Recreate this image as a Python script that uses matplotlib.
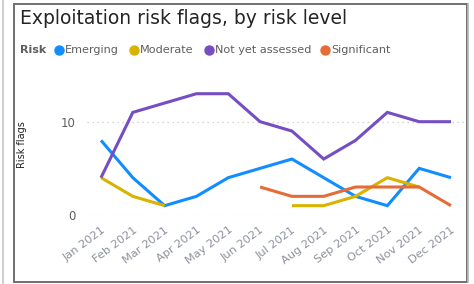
import numpy as np
import matplotlib.pyplot as plt
from matplotlib.patches import Rectangle
from matplotlib.lines import Line2D

# Data
months = ['Jan 2021', 'Feb 2021', 'Mar 2021', 'Apr 2021', 'May 2021', 'Jun 2021',
          'Jul 2021', 'Aug 2021', 'Sep 2021', 'Oct 2021', 'Nov 2021', 'Dec 2021']
series_names = ['Emerging', 'Moderate', 'Not yet assessed', 'Significant']
emerging = [8, 4, 1, 2, 4, 5, 6, 4, 2, 1, 5, 4]
moderate = [4, 2, 1, None, None, None, 1, 1, 2, 4, 3, None]
not_yet_assessed = [4, 11, 12, 13, 13, 10, 9, 6, 8, 11, 10, 10]
significant = [None, None, None, None, None, 3, 2, 2, 3, 3, 3, 1]
y_ticks = [0, 10]

colors = ['#118DFF', '#D9B300', '#744EC2', '#E66C37']
W, H = 474, 284

fig = plt.figure(figsize=(W / 100, H / 100), dpi=100)
fig.patch.set_facecolor('white')

# frame of the visual
fig.add_artist(Line2D([2.5 / W, 2.5 / W], [0, 1], color='#c6c6c6', lw=1.2))
fig.add_artist(Rectangle((14 / W, (H - 282) / H), 453 / W, 278 / H,
                         fill=False, edgecolor='#707070', lw=1.4))
fig.add_artist(Line2D([468 / W, 468 / W], [(H - 282) / H, (H - 4) / H],
                      color='#b8b8b8', lw=1.2))

ax = fig.add_axes([87 / W, (H - 215) / H, 378 / W, (14 * 9.33) / H])
x = np.arange(len(months))
data = [emerging, moderate, not_yet_assessed, significant]
for vals, c in zip(data, colors):
    y = np.array([np.nan if v is None else v for v in vals], dtype=float)
    ax.plot(x, y, color=c, lw=2.2, solid_capstyle='butt', solid_joinstyle='miter')

ax.set_xlim(-0.44, 11.44)
ax.set_ylim(0, 14)
ax.set_yticks(y_ticks)
ax.set_yticklabels([str(t) for t in y_ticks], fontsize=8.5, color='#605E5C')
for t in y_ticks:
    ax.axhline(t, color='#c8c8c8', lw=0.9, ls=(0, (1, 3)), zorder=0)
ax.set_xticks(x)
ax.set_xticklabels(months, rotation=37, ha='right', rotation_mode='anchor',
                   fontsize=8.2, color='#8c919b')
ax.tick_params(length=0, pad=7)
ax.tick_params(axis='y', pad=8)
for s in ax.spines.values():
    s.set_visible(False)
ax.set_ylabel('Risk flags', fontsize=7, color='#252423')
ax.yaxis.set_label_coords(-(87 - 27) / 378, (215 - 145) / (14 * 9.33))

# title
fig.text(20 / W, (H - 18) / H, 'Exploitation risk flags, by risk level',
         fontsize=13.5, color='#252423', va='center', ha='left')

# legend
ly = (H - 50) / H
fig.text(20 / W, ly, 'Risk', fontsize=8, fontweight='bold', color='#605E5C',
         va='center', ha='left')
dot_x = [59, 134, 209, 325]
for name, c, dx in zip(series_names, colors, dot_x):
    fig.add_artist(Line2D([dx / W], [ly], marker='o', markersize=6.5,
                          color=c, lw=0))
    fig.text((dx + 6) / W, ly, name, fontsize=8.1, color='#605E5C',
             va='center', ha='left')

fig.savefig('out.png', dpi=100, facecolor='white')
